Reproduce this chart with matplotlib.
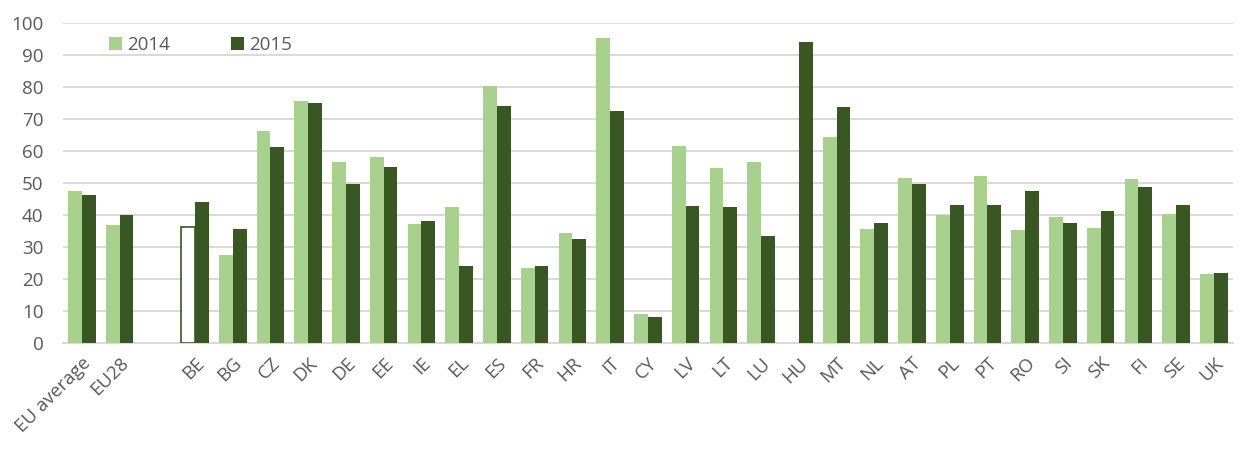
import numpy as np
import matplotlib.pyplot as plt

# catégories (le vide sépare les moyennes UE des pays)
categories = ['EU average', 'EU28', '', 'BE', 'BG', 'CZ', 'DK', 'DE', 'EE', 'IE', 'EL', 'ES',
              'FR', 'HR', 'IT', 'CY', 'LV', 'LT', 'LU', 'HU', 'MT', 'NL', 'AT', 'PL', 'PT',
              'RO', 'SI', 'SK', 'FI', 'SE', 'UK']
v2014 = [47.5, 36.8, np.nan, 36.3, 27.5, 66.2, 75.6, 56.6, 58.1, 37.2, 42.5, 80.2,
         23.4, 34.4, 95.3, 9.1, 61.6, 54.7, 56.6, np.nan, 64.4, 35.6, 51.6, 40.0, 52.2,
         35.3, 39.4, 35.9, 51.3, 40.3, 21.6]
v2015 = [46.3, 40.0, np.nan, 44.0, 35.6, 61.2, 75.0, 49.8, 55.0, 38.1, 24.1, 74.0,
         24.1, 32.5, 72.5, 8.1, 42.8, 42.5, 33.4, 94.0, 73.8, 37.5, 49.8, 43.1, 43.1,
         47.5, 37.5, 41.3, 48.8, 43.1, 21.9]
hollow = ['BE']  # barre 2014 non remplie

light = '#A9D18E'
dark = '#385723'
grey = '#595959'

plt.rcParams['font.family'] = ['Open Sans', 'DejaVu Sans']

fig = plt.figure(figsize=(12.49, 4.5), dpi=100)
ax = fig.add_axes([0.0504, 0.2378, 0.9366, 0.7112])

x = np.arange(len(categories))
w = 0.365
b14 = ax.bar(x - w / 2, v2014, width=w, color=light, label='2014', zorder=3)
b15 = ax.bar(x + w / 2, v2015, width=w, color=dark, label='2015', zorder=3)

for i, c in enumerate(categories):
    if c in hollow:
        b14[i].set_facecolor('white')
        b14[i].set_edgecolor(dark)
        b14[i].set_linewidth(1.2)

ax.set_xlim(-0.5, len(categories) - 0.5)
ax.set_ylim(0, 100)
ax.set_yticks(range(0, 101, 10))
ax.yaxis.grid(True, color='#D9D9D9', linewidth=1.4, zorder=0)
ax.set_axisbelow(True)

for s in ['top', 'right', 'left']:
    ax.spines[s].set_visible(False)
ax.spines['bottom'].set_color('#D9D9D9')
ax.spines['bottom'].set_linewidth(1.4)

ax.set_xticks(x)
ax.set_xticklabels(categories, rotation=45, ha='right', rotation_mode='anchor',
                   fontsize=13.5, color=grey)
ax.tick_params(axis='x', length=0, pad=8)
ax.tick_params(axis='y', length=0, pad=14, labelsize=13.5, labelcolor=grey)

ax.legend(loc='upper left', bbox_to_anchor=(0.025, 1.0125), ncol=2, frameon=False,
          fontsize=13.5, labelcolor=grey, handlelength=0.7, handleheight=0.7,
          columnspacing=3.25, handletextpad=0.27)

fig.savefig('out.png', dpi=100)
